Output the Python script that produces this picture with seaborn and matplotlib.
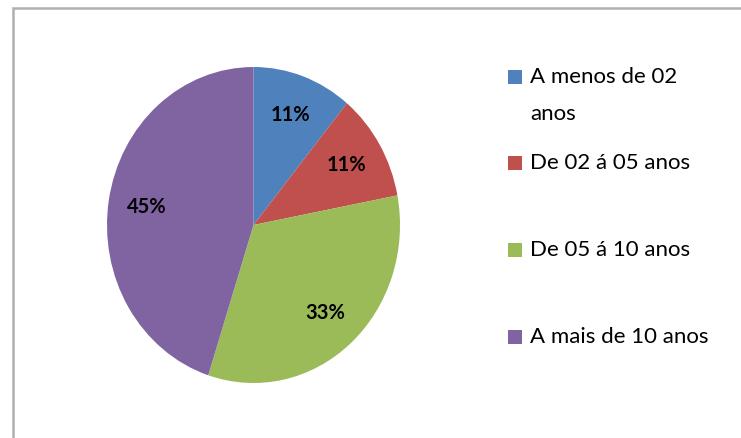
import matplotlib
matplotlib.use("Agg")
import matplotlib.pyplot as plt
from matplotlib.patches import Rectangle
import seaborn as sns

categories = ["A menos de 02\nanos", "De 02 á 05 anos", "De 05 á 10 anos", "A mais de 10 anos"]
values = [11, 11, 33, 45]
pct_labels = ["11%", "11%", "33%", "45%"]
colors = ["#4F81BD", "#C0504D", "#9BBB59", "#8064A2"]

sns.set_theme(style="white")
plt.rcParams["font.family"] = ["Lato", "DejaVu Sans"]

W, H = 741, 438
fig = plt.figure(figsize=(W / 100, H / 100), dpi=100)
fig.patch.set_facecolor("white")

def fx(px):
    return px / W

def fy(py):
    return 1 - py / H

# chart-area border (only left and top visible in the crop)
fig.add_artist(Rectangle((fx(13), fy(H + 20)), fx(W + 40), (H + 12) / H,
                         transform=fig.transFigure, fill=False,
                         edgecolor="#b0b0b0", linewidth=1.8))

# pie axes
left, right, top, bottom = 107, 400, 67, 383
ax = fig.add_axes([fx(left), fy(bottom), fx(right - left), (bottom - top) / H])
pal = sns.color_palette(colors)
wedges, texts, autotexts = ax.pie(
    values, colors=pal, startangle=90, counterclock=False,
    autopct=lambda p: "", pctdistance=0.74, radius=1.0,
    wedgeprops=dict(linewidth=0),
)
for t, lab in zip(autotexts, pct_labels):
    t.set_text(lab)
    t.set_fontsize(14.5)
    t.set_fontweight("bold")
    t.set_color("black")
ax.set_aspect("auto")
ax.set_xlim(-1, 1)
ax.set_ylim(-1, 1)
ax.axis("off")

# legend (drawn manually to follow the Excel layout)
sq_y = [77, 163, 250, 337]
for lab, col, y in zip(categories, pal, sq_y):
    fig.add_artist(Rectangle((fx(508), fy(y + 7)), fx(14), 14 / H,
                             transform=fig.transFigure, facecolor=col,
                             edgecolor="none"))
    if "\n" in lab:
        fig.text(fx(530), fy(y - 10), lab, fontsize=16, color="black",
                 va="top", ha="left", linespacing=2.05)
    else:
        fig.text(fx(530), fy(y), lab, fontsize=16, color="black",
                 va="center", ha="left")

fig.savefig("out.png", dpi=100, facecolor="white")
